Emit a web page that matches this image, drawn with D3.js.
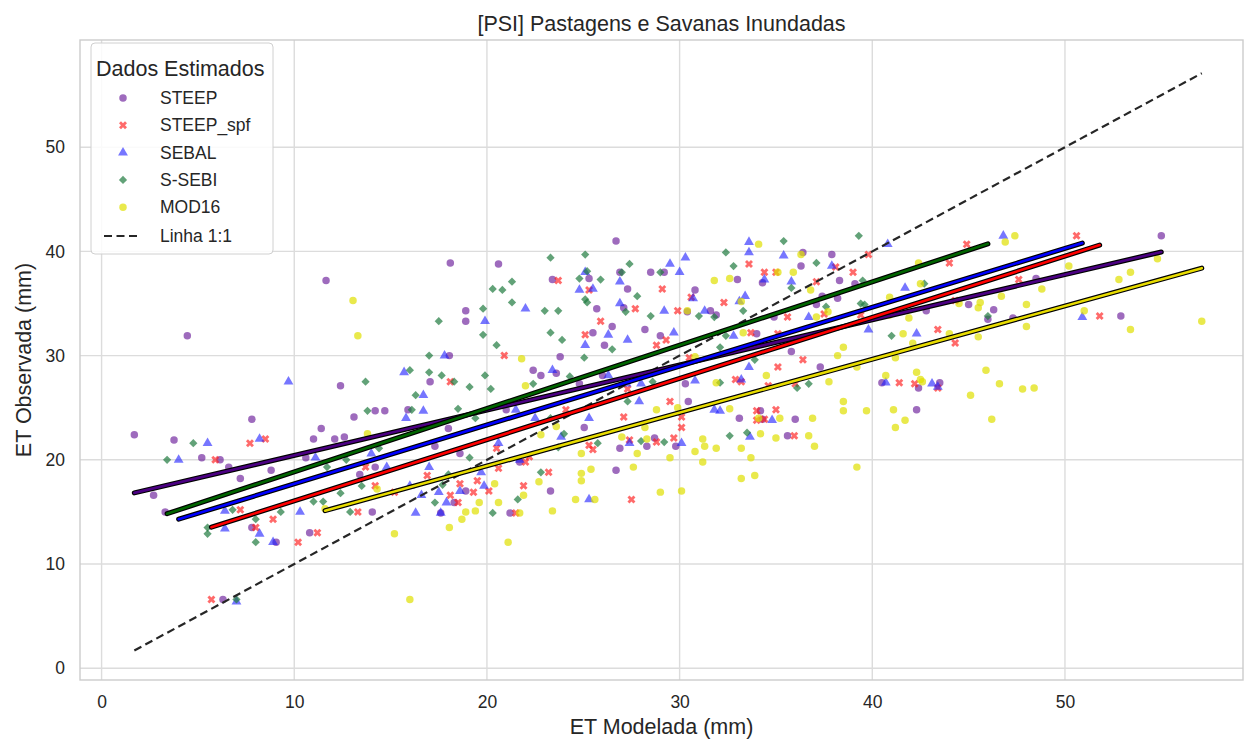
<!DOCTYPE html>
<html>
<head>
<meta charset="utf-8">
<script src="https://cdn.jsdelivr.net/npm/d3@7"></script>
<style>
  body { margin: 0; background: #fff; }
  svg text { font-family: "Liberation Sans", Arial, sans-serif; fill: #262626; }
</style>
</head>
<body>
<svg id="chart" width="1244" height="740"></svg>
<script>
// points: [ET modelada, ET observada]
const steep = [[4.45,31.9],[11.65,37.2],[26.7,41.0],[18.1,38.9],[20.6,38.8],[26.9,38.0],[28.5,38.0],[29.2,38.0],[25.3,37.4],[23.4,37.3],
  [27.3,36.4],[30.8,36.3],[25.7,34.5],[27.1,34.6],[30.4,34.2],[18.9,34.3],[18.9,33.3],[26.5,32.8],[25.5,32.2],[28.2,32.5],[29.0,31.9],[26.1,31.0],
  [36.4,39.9],[37.9,39.7],[36.3,38.6],[33.0,37.3],[34.3,37.0],[38.3,37.2],[39.1,36.9],[38.2,35.5],[37.4,35.7],[37.1,34.9],[31.6,34.3],[34.9,33.7],
  [42.8,34.3],[46.0,33.5],[46.3,34.4],[45.0,34.9],[34.0,32.1],[31.9,33.9],[55.0,41.5],[48.5,37.4],[52.9,33.8],[47.3,33.6],
  [1.7,22.4],[3.76,21.9],[5.2,20.2],[6.15,20.0],[6.6,19.3],[7.2,18.2],[7.8,23.9],[8.8,19.0],[12.4,27.1],[14.2,24.7],[14.7,24.7],[13.1,24.1],
  [11.4,23.0],[11.0,22.0],[12.1,22.0],[12.6,22.2],[10.6,20.2],[14.2,19.3],[13.4,18.6],[2.7,16.6],[3.3,15.0],[7.8,13.5],[9.06,12.1],[10.8,13.0],
  [14.05,15.0],[6.3,6.6],[21.2,14.9],[23.3,17.0],[18.3,15.9],[18.9,17.0],[17.6,14.9],[35.8,30.4],[37.3,28.9],[40.5,27.4],[42.4,26.9],[43.5,27.4],
  [42.3,24.8],[34.2,24.7],[34.3,23.9],[33.1,24.0],[36.0,23.9],[35.6,22.3],[18.05,30.0],[23.8,29.9],[17.05,27.5],[22.4,28.6],[22.8,28.1],[23.6,28.3],
  [26.0,28.1],[30.3,27.3],[30.45,25.6],[15.9,24.8],[21.0,24.8],[18.0,23.0],[25.05,23.1],[28.3,21.3],[28.7,22.1],[29.8,21.3],[26.9,21.1],[18.6,20.6],
  [17.3,21.3],[21.7,19.8],[24.8,27.3],[26.7,19.0]];

const steepSpf = [[23.7,37.2],[25.3,36.3],[29.1,36.4],[30.6,35.6],[27.7,34.5],[29.9,34.3],[25.9,33.3],[25.1,32.0],[29.3,31.5],[28.8,31.0],
  [44.9,40.7],[39.8,39.7],[33.6,38.8],[38.1,38.5],[44.0,38.9],[34.4,38.0],[35.0,38.0],[39.0,38.0],[37.1,37.1],[32.3,35.1],[35.6,33.7],[37.5,34.0],
  [39.4,33.9],[44.3,35.3],[33.7,32.2],[35.1,32.1],[43.4,32.5],[44.3,31.2],[50.6,41.5],[47.6,37.3],[51.8,33.8],[5.9,20.0],[7.7,21.6],[8.5,22.0],
  [13.7,19.3],[7.2,15.2],[8.0,13.5],[8.9,14.3],[10.2,12.1],[11.2,13.0],[13.3,15.0],[5.7,6.6],[14.2,17.5],[15.2,16.9],[21.5,14.9],[20.1,17.0],
  [21.9,17.5],[27.5,16.2],[18.5,15.9],[18.1,16.6],[19.3,16.9],[18.6,17.7],[19.5,18.0],[36.4,29.6],[35.1,28.9],[41.4,27.4],[42.2,27.3],[43.4,26.9],
  [34.6,27.1],[32.9,27.7],[33.2,27.5],[36.0,27.3],[34.0,24.7],[35.0,24.8],[34.0,23.8],[34.4,23.9],[35.95,22.3],[20.9,30.0],[30.5,29.8],[18.1,27.5],
  [27.3,26.8],[29.5,25.6],[24.1,24.8],[27.1,24.1],[30.1,24.1],[30.1,23.1],[27.4,21.9],[29.7,22.1],[28.8,21.7],[25.3,21.4],[25.5,21.0],[20.5,21.1],
  [22.0,19.8],[23.2,18.8],[20.6,19.2],[22.2,20.3],[16.9,18.5]];

const sebal = [[30.3,39.4],[29.5,38.8],[30.0,38.0],[25.1,38.0],[26.9,37.1],[24.8,36.3],[25.5,36.4],[30.7,35.5],[22.0,34.5],[26.9,35.0],
  [29.2,34.3],[19.9,33.3],[29.7,32.2],[26.3,32.0],[27.3,31.5],[25.1,31.0],[33.6,40.9],[40.8,40.7],[33.6,39.9],[35.4,39.6],[37.9,38.6],[34.4,37.3],
  [35.8,37.1],[41.7,36.5],[33.1,35.2],[33.4,35.7],[31.3,34.3],[36.7,33.7],[32.8,31.9],[42.3,32.1],[39.8,32.5],[46.8,41.5],[50.9,33.7],
  [5.5,21.6],[4.0,20.0],[8.2,22.0],[9.7,27.5],[11.1,20.2],[14.8,19.3],[14.0,20.6],[6.4,15.1],[6.4,13.4],[8.2,12.9],[8.9,12.1],[10.3,15.0],
  [7.0,6.4],[19.85,17.5],[25.3,16.2],[16.3,14.9],[17.6,14.9],[17.9,15.9],[18.6,17.0],[16.6,16.6],[17.5,16.9],[33.6,28.9],[40.7,27.4],[43.1,27.3],
  [43.4,27.0],[33.2,27.7],[31.8,24.8],[32.1,24.7],[34.8,23.8],[33.65,22.2],[17.8,30.0],[15.7,28.4],[23.4,28.6],[26.3,28.1],[27.25,27.3],[28.0,27.3],
  [30.8,27.6],[16.7,26.2],[27.9,25.6],[16.7,24.7],[15.8,24.0],[21.5,24.8],[22.5,24.0],[25.3,24.0],[23.85,22.2],[27.4,21.6],[30.1,21.6],[20.6,21.6],
  [21.7,20.0],[19.7,18.8],[16.0,17.5],[17.0,19.3]];

const ssebi = [[23.3,39.4],[25.1,39.7],[27.4,38.8],[27.0,38.0],[29.0,38.0],[25.2,38.1],[24.8,37.4],[25.9,37.3],[21.3,37.1],[20.3,36.4],
  [20.8,36.3],[25.1,35.4],[25.2,35.1],[27.8,35.7],[21.3,35.1],[23.0,34.3],[23.7,34.3],[27.2,34.2],[28.5,33.8],[31.0,33.8],[19.8,34.5],[17.5,33.3],
  [19.8,32.0],[20.5,31.0],[23.3,32.2],[23.9,31.5],[39.3,41.5],[35.4,41.0],[32.4,39.9],[32.8,38.6],[37.1,38.9],[39.5,37.2],[35.8,36.5],[42.7,36.9],
  [37.6,34.7],[39.4,35.0],[39.6,34.9],[31.8,33.7],[33.3,34.3],[46.0,33.8],[32.4,31.9],[32.1,30.8],[41.0,31.9],[4.76,21.6],[3.4,20.0],[13.7,27.5],
  [13.8,24.7],[11.7,19.3],[12.7,20.0],[14.4,21.1],[6.8,15.2],[5.5,13.5],[5.5,12.9],[8.0,14.3],[8.0,12.1],[9.3,15.0],[11.0,16.0],[11.5,16.0],
  [12.9,15.0],[12.4,16.8],[13.5,17.5],[7.0,6.6],[20.3,14.9],[21.6,16.2],[17.3,15.9],[17.7,17.6],[33.9,29.6],[36.1,26.9],[36.7,27.3],[32.1,27.4],
  [32.6,22.3],[33.5,22.6],[17.0,30.0],[25.05,29.8],[26.5,30.6],[16.0,28.6],[17.0,28.4],[17.65,28.1],[18.3,27.5],[19.1,27.0],[19.9,28.1],[20.2,26.8],
  [22.4,27.3],[24.3,28.0],[28.6,27.5],[16.3,26.2],[27.3,25.6],[16.1,24.8],[18.5,24.9],[19.4,24.0],[23.3,24.0],[25.75,21.6],[24.0,22.5],[28.0,21.8],
  [29.2,21.7],[19.1,20.2],[23.7,21.2],[22.8,18.8],[18.0,18.6]];

const mod16 = [[13.05,35.3],[13.3,31.9],[30.4,34.3],[34.1,40.7],[36.3,39.7],[42.4,38.9],[35.1,38.0],[35.9,38.0],[31.8,37.2],[32.6,37.4],
  [36.8,36.3],[42.5,36.9],[33.2,35.2],[40.9,35.6],[37.1,33.7],[37.7,34.2],[40.9,33.9],[41.9,33.6],[45.5,34.6],[45.6,35.1],[44.5,35.0],[33.3,32.2],
  [41.6,32.1],[44.0,32.1],[45.5,31.8],[42.1,31.2],[38.5,30.8],[47.4,41.5],[46.9,40.9],[54.8,39.3],[50.2,38.6],[53.4,38.0],[52.8,37.3],[48.8,36.4],
  [46.7,35.7],[48.0,34.9],[51.0,34.3],[57.1,33.3],[53.4,32.5],[48.0,32.8],[13.8,22.5],[14.3,17.2],[15.2,12.9],[11.6,15.3],[16.0,6.6],[21.1,12.1],
  [18.05,13.5],[18.7,14.3],[18.9,15.0],[19.4,15.1],[19.6,15.9],[20.6,15.9],[20.4,17.7],[21.9,16.6],[21.7,14.9],[23.4,15.1],[22.7,17.9],[24.6,16.2],
  [25.6,16.2],[24.9,18.0],[29.0,16.9],[30.1,17.0],[38.2,30.0],[34.5,28.1],[39.2,28.9],[41.2,29.8],[40.7,28.1],[42.3,28.4],[42.5,27.7],[42.6,27.5],
  [45.9,28.6],[46.6,27.3],[45.1,26.2],[46.2,23.9],[41.1,24.8],[41.7,23.8],[41.2,23.1],[38.5,25.6],[38.5,24.7],[39.7,24.7],[37.75,27.5],[31.9,27.4],
  [32.6,24.9],[34.1,24.0],[35.2,24.0],[36.9,24.0],[34.2,22.5],[36.7,22.3],[35.0,22.1],[37.0,21.3],[31.2,22.0],[31.3,21.3],[31.9,21.1],[33.2,21.1],
  [33.7,20.2],[31.2,19.8],[39.2,19.3],[33.2,18.2],[33.9,18.5],[47.8,26.8],[48.4,26.9],[21.8,29.7],[30.8,29.9],[22.0,27.1],[28.8,24.8],[29.9,25.0],
  [23.6,23.2],[22.8,22.4],[27.0,22.2],[28.2,23.1],[28.3,22.0],[30.8,20.8],[29.5,20.2],[24.9,20.6],[27.8,20.6],[27.6,19.3],[25.4,19.1],[24.9,18.7]];

const seriesNames = ['STEEP', 'STEEP_spf', 'SEBAL', 'S-SEBI', 'MOD16'];
// fitted lines: [slope, intercept]
const fits = [[0.4338, 16.09], [0.5872, 10.19], [0.565, 12.04], [0.608, 12.76], [0.5115, 9.19]];
const xTicks = [0, 10, 20, 30, 40, 50];
const yTicks = [0, 10, 20, 30, 40, 50];

const series = [steep, steepSpf, sebal, ssebi, mod16];
const pointColors = ['#6a1b9a', '#ff1a1a', '#1a1aff', '#1f7a3f', '#e0e000'];
const lineColors = ['#4b0082', '#ff0000', '#0000ff', '#006400', '#e8dc00'];
const shapes = [d3.symbolCircle, d3.symbolCross, d3.symbolTriangle, d3.symbolSquare, d3.symbolCircle];
const shapeSizes = [44, 40, 42, 34, 44];
const rotations = [0, 45, 0, 45, 0];
const opac = [0.65, 0.65, 0.6, 0.7, 0.7];

const svg = d3.select('#chart');
const L = 80, R = 1243, T = 40, B = 680;
const x = d3.scaleLinear().domain([-1.12, 59.24]).range([L, R]);
const y = d3.scaleLinear().domain([-1.13, 60.29]).range([B, T]);

// grid
svg.append('g').selectAll('line').data(xTicks).enter().append('line')
  .attr('x1', d => x(d)).attr('x2', d => x(d)).attr('y1', T).attr('y2', B)
  .attr('stroke', '#dcdcdc').attr('stroke-width', 1.4);
svg.append('g').selectAll('line').data(yTicks).enter().append('line')
  .attr('y1', d => y(d)).attr('y2', d => y(d)).attr('x1', L).attr('x2', R)
  .attr('stroke', '#dcdcdc').attr('stroke-width', 1.4);

// axes (labels only, seaborn whitegrid has no tick marks)
const xAxis = svg.append('g').attr('transform', `translate(0,${B})`)
  .call(d3.axisBottom(x).tickValues(xTicks).tickSize(0).tickPadding(16));
const yAxis = svg.append('g').attr('transform', `translate(${L},0)`)
  .call(d3.axisLeft(y).tickValues(yTicks).tickSize(0).tickPadding(15));
[xAxis, yAxis].forEach(a => {
  a.select('.domain').remove();
  a.selectAll('text').style('font-size', '17.5px').attr('fill', '#333');
});

// scatter
series.forEach((pts, i) => {
  svg.append('g').selectAll('path').data(pts).enter().append('path')
    .attr('d', d3.symbol().type(shapes[i]).size(shapeSizes[i]))
    .attr('transform', d => `translate(${x(d[0])},${y(d[1])}) rotate(${rotations[i]})`)
    .attr('fill', pointColors[i]).attr('fill-opacity', opac[i]);
});

// 1:1 line across the full x range of the data
const allX = d3.extent(series.flat(), d => d[0]);
svg.append('line')
  .attr('x1', x(allX[0])).attr('y1', y(allX[0]))
  .attr('x2', x(allX[1])).attr('y2', y(allX[1]))
  .attr('stroke', '#262626').attr('stroke-width', 2.2).attr('stroke-dasharray', '8,4.5');

// regression lines with a dark edge
series.forEach((pts, i) => {
  const ext = d3.extent(pts, d => d[0]);
  const [m, b] = fits[i];
  const seg = ext.map(v => [x(v), y(m * v + b)]);
  const ln = d3.line();
  svg.append('path').attr('d', ln(seg)).attr('stroke', '#000').attr('stroke-width', 5)
    .attr('stroke-linecap', 'round').attr('fill', 'none');
  svg.append('path').attr('d', ln(seg)).attr('stroke', lineColors[i]).attr('stroke-width', 2.6)
    .attr('stroke-linecap', 'round').attr('fill', 'none');
});

// frame
svg.append('rect').attr('x', L).attr('y', T).attr('width', R - L).attr('height', B - T)
  .attr('fill', 'none').attr('stroke', '#cccccc').attr('stroke-width', 1.4);

// title and axis labels
svg.append('text').attr('x', (L + R) / 2).attr('y', 31).attr('text-anchor', 'middle')
  .style('font-size', '21.5px').text('[PSI] Pastagens e Savanas Inundadas');
svg.append('text').attr('x', (L + R) / 2).attr('y', 734).attr('text-anchor', 'middle')
  .style('font-size', '21.5px').text('ET Modelada (mm)');
svg.append('text').attr('transform', `translate(31,${(T + B) / 2}) rotate(-90)`).attr('text-anchor', 'middle')
  .style('font-size', '21.5px').text('ET Observada (mm)');

// legend
const lg = svg.append('g');
lg.append('rect').attr('x', 91).attr('y', 43).attr('width', 182).attr('height', 211).attr('rx', 4)
  .attr('fill', '#fff').attr('fill-opacity', 0.85).attr('stroke', '#d0d0d0');
lg.append('text').attr('x', 96).attr('y', 76)
  .style('font-size', '21.5px').text('Dados Estimados');
seriesNames.forEach((name, i) => {
  const cy = 98 + i * 27.3;
  lg.append('path').attr('d', d3.symbol().type(shapes[i]).size(shapeSizes[i])())
    .attr('transform', `translate(123,${cy}) rotate(${rotations[i]})`)
    .attr('fill', pointColors[i]).attr('fill-opacity', opac[i]);
  lg.append('text').attr('x', 160).attr('y', cy + 6).style('font-size', '17.5px').text(name);
});
lg.append('line').attr('x1', 104).attr('x2', 141).attr('y1', 236).attr('y2', 236)
  .attr('stroke', '#262626').attr('stroke-width', 2.2).attr('stroke-dasharray', '8,4.5');
lg.append('text').attr('x', 160).attr('y', 242).style('font-size', '17.5px').text('Linha 1:1');
</script>
</body>
</html>
